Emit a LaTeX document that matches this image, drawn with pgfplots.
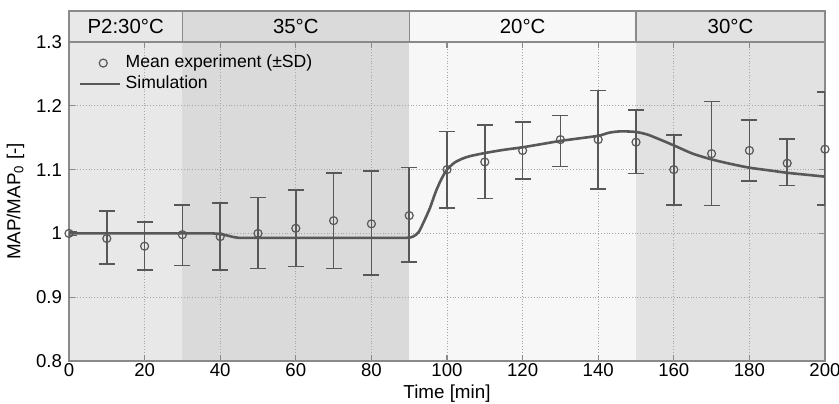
\documentclass[border=0pt]{standalone}
\usepackage{fontspec}
\setmainfont{Liberation Sans}
\usepackage{pgfplots}
\usepackage{pgfplotstable}
\pgfplotsset{compat=1.18}
\definecolor{bgA}{HTML}{E8E8E8}
\definecolor{bgB}{HTML}{DADADA}
\definecolor{bgC}{HTML}{F7F7F7}
\definecolor{bgD}{HTML}{E2E2E2}
\definecolor{ink}{HTML}{585858}
\definecolor{frame}{HTML}{8A8A8A}
\pgfplotsset{simlegend/.style={legend image code/.code={\draw[##1] (-0.1cm,0pt) -- (0.6cm,0pt);}}}

% mean experiment: t, mean, +SD, -SD
\pgfplotstableread{
t    m      ep     em
0    1.000  0.003  0.003
10   0.992  0.043  0.040
20   0.980  0.038  0.037
30   0.998  0.047  0.048
40   0.995  0.053  0.052
50   1.000  0.056  0.055
60   1.008  0.060  0.060
70   1.020  0.075  0.075
80   1.015  0.083  0.080
90   1.028  0.075  0.073
100  1.100  0.060  0.060
110  1.112  0.058  0.057
120  1.130  0.045  0.045
130  1.147  0.038  0.042
140  1.147  0.077  0.077
150  1.143  0.050  0.049
160  1.100  0.054  0.055
170  1.125  0.082  0.081
180  1.130  0.048  0.048
190  1.110  0.038  0.035
200  1.132  0.090  0.087
}\expdata

\begin{document}
\begin{tikzpicture}[x=0.5pt,y=0.5pt]
\begin{axis}[
    name=main, at={(0,0)}, anchor=origin,
    set layers,
    scale only axis, width=378pt, height=159.5pt,
    xmin=0, xmax=200, ymin=0.8, ymax=1.3,
    xtick={0,20,...,200}, ytick={0.8,0.9,1,1.1,1.2,1.3},
    yticklabels={0.8,0.9,1,1.1,1.2,1.3},
    tick align=inside, major tick length=3pt,
    xtick pos=both, ytick pos=both,
    grid=major, grid style={densely dotted, gray!70, line width=0.5pt},
    axis line style={frame, line width=0.6pt},
    tick style={frame, line width=0.6pt},
    tick label style={font=\fontsize{9.3}{11}\selectfont},
    xticklabel style={yshift=2.5pt},
    /pgf/number format/assume math mode=true,
    xlabel={Time [min]},
    ylabel={MAP/MAP\textsubscript{0} [-]},
    label style={font=\fontsize{9.4}{11}\selectfont},
    xlabel style={yshift=2.5pt},
    ylabel style={yshift=-1pt},
    legend cell align=left,
    legend style={at={(0.005,0.985)}, anchor=north west, draw=none, fill=none,
        font=\fontsize{8.8}{10}\selectfont, row sep=-1.5pt},
]
% background bands (decoration)
\begin{pgfonlayer}{axis background}
\fill[bgA] (axis cs:0,0.8) rectangle (axis cs:30,1.3);
\fill[bgB] (axis cs:30,0.8) rectangle (axis cs:90,1.3);
\fill[bgC] (axis cs:90,0.8) rectangle (axis cs:150,1.3);
\fill[bgD] (axis cs:150,0.8) rectangle (axis cs:200,1.3);
\end{pgfonlayer}

\addplot[only marks, mark=o, mark size=2pt, mark options={ink, line width=0.6pt},
    error bars/.cd, y dir=both, y explicit,
    error bar style={ink, line width=0.8pt},
    error mark options={ink, rotate=90, mark size=4pt, line width=0.8pt}]
    table[x=t, y=m, y error plus=ep, y error minus=em] {\expdata};
\addlegendentry{Mean experiment (±SD)}

\addplot[ink, line width=1.3pt, smooth, tension=0.4, simlegend] coordinates {
(0,1.000) (10,1.000) (20,1.000) (30,1.000) (38,1.000) (41,0.998) (43,0.995)
(45,0.993) (50,0.993) (60,0.993) (70,0.993) (80,0.993) (89,0.993) (91,0.995)
(92.5,1.002) (94,1.020) (95.5,1.040) (97,1.065) (98.5,1.085) (100,1.100)
(102,1.111) (104,1.117) (106,1.121) (110,1.126) (115,1.131) (120,1.135)
(125,1.140) (130,1.145) (135,1.149) (140,1.153) (143,1.158) (146,1.160)
(150,1.159) (153,1.155) (156,1.148) (160,1.138) (165,1.125) (170,1.116)
(175,1.109) (180,1.103) (185,1.099) (190,1.095) (195,1.092) (200,1.089)
};
\addlegendentry{Simulation}
\end{axis}
% temperature header above the axis (axis spans 756 x 319 units)
\begin{scope}[line width=0.6pt, draw=frame]
\filldraw[fill=bgA] (0,319) rectangle (113.4,350);
\filldraw[fill=bgB] (113.4,319) rectangle (340.2,350);
\filldraw[fill=bgC] (340.2,319) rectangle (567,350);
\filldraw[fill=bgD] (567,319) rectangle (756,350);
\end{scope}
\path[font=\fontsize{10.2}{12}\selectfont]
  (56.7,334.5) node {P2:30°C}
  (226.8,334.5) node {35°C}
  (453.6,334.5) node {20°C}
  (661.5,334.5) node {30°C};
\pgfresetboundingbox
\path (-69,-42) rectangle (770,361);
\end{tikzpicture}
\end{document}
